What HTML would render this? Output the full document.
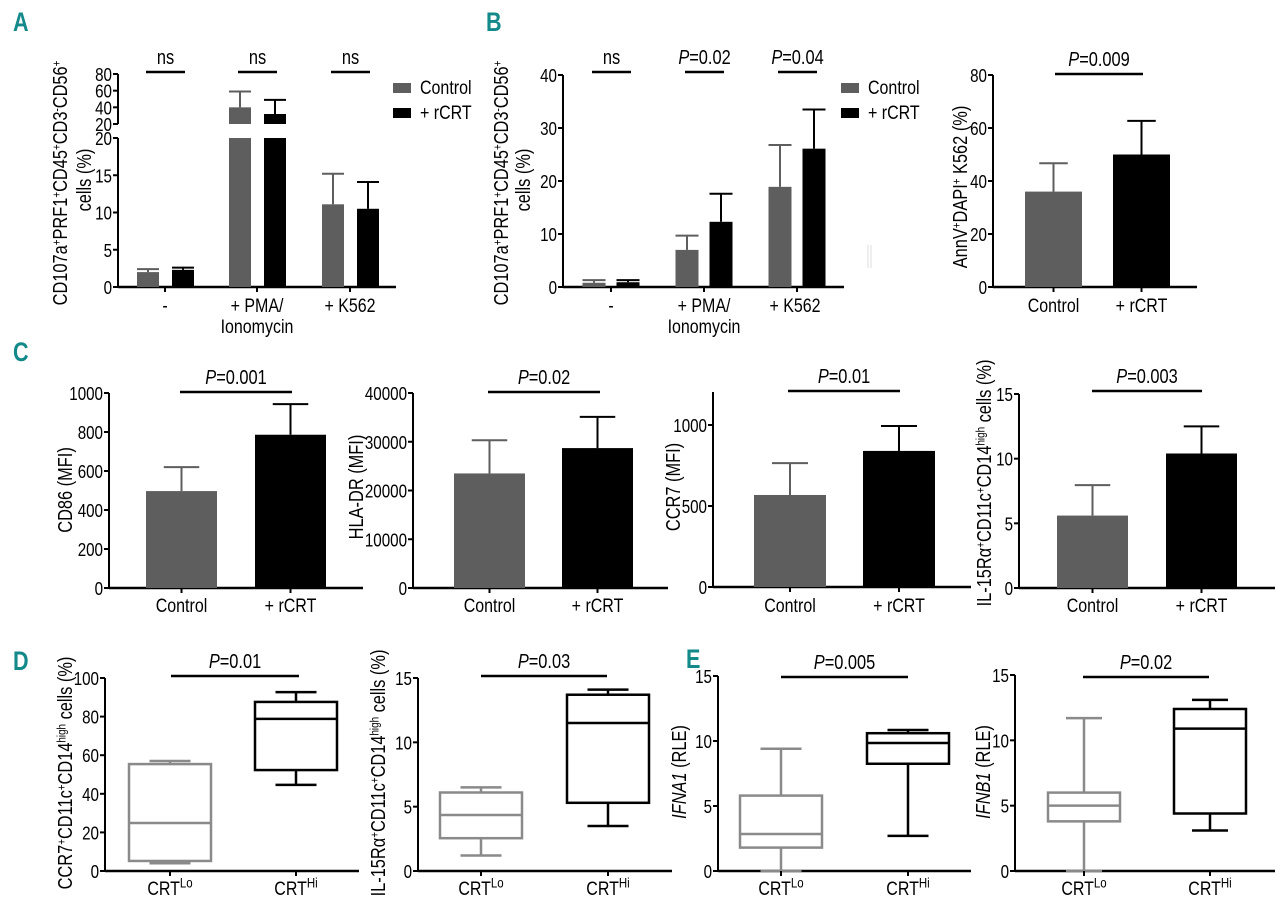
<!DOCTYPE html>
<html><head><meta charset="utf-8"><style>
html,body{margin:0;padding:0;background:#fff;}
svg{display:block;}
text{font-family:"Liberation Sans",sans-serif;fill:#000;}
.pl{font-weight:bold;fill:#13898a;font-size:27px;}
</style></head><body>
<svg id="fig" width="1280" height="912" viewBox="0 0 1280 912" xmlns="http://www.w3.org/2000/svg">
<text class="pl" transform="translate(13,31) scale(0.8,1)">A</text>
<text class="pl" transform="translate(486,31) scale(0.8,1)">B</text>
<text class="pl" transform="translate(13,361) scale(0.8,1)">C</text>
<text class="pl" transform="translate(13,670) scale(0.8,1)">D</text>
<text class="pl" transform="translate(686,668) scale(0.8,1)">E</text>
</svg>
<script>
// ---------- DATA ----------
const aGroups=["-","+ PMA/","+ K562"];
const aCtrl=[2.0,40,11.1];
const aCtrlErr=[2.4,59,15.2];
const aRcrt=[2.3,32,10.5];
const aRcrtErr=[2.6,49,14.1];
const aSig=["ns","ns","ns"];
const aTicksLow=[0,5,10,15,20];
const aTicksHigh=[20,40,60,80];

const bGroups=["-","+ PMA/","+ K562"];
const bCtrl=[0.8,7.0,18.9];
const bCtrlErr=[1.3,9.7,26.8];
const bRcrt=[0.9,12.3,26.1];
const bRcrtErr=[1.3,17.6,33.5];
const bSig=["ns","P=0.02","P=0.04"];
const bTicks=[0,10,20,30,40];

const annCats=["Control","+ rCRT"];
const annVals=[36,50];
const annErr=[46.7,62.7];
const annTicks=[0,20,40,60,80];

const cCats=["Control","+ rCRT"];
const cd86Vals=[497,786];
const cd86Err=[620,943];
const cd86Ticks=[0,200,400,600,800,1000];
const hlaVals=[23500,28700];
const hlaErr=[30300,35100];
const hlaTicks=[0,10000,20000,30000,40000];
const ccr7Vals=[568,840];
const ccr7Err=[765,994];
const ccr7Ticks=[0,500,1000];
const il15Vals=[5.6,10.4];
const il15Err=[7.95,12.5];
const il15Ticks=[0,5,10,15];

// box stats: [min,q1,median,q3,max]
const dCcr7Lo=[4,5.2,24.9,55.4,57];
const dCcr7Hi=[44.6,52.3,78.8,87.6,92.7];
const dCcr7Ticks=[0,20,40,60,80,100];
const dIl15Lo=[1.2,2.55,4.35,6.1,6.5];
const dIl15Hi=[3.5,5.3,11.5,13.7,14.1];
const dIl15Ticks=[0,5,10,15];
const eIfna1Lo=[0,1.8,2.85,5.8,9.4];
const eIfna1Hi=[2.7,8.25,9.85,10.6,10.85];
const eIfnb1Lo=[0,3.8,5.0,6.0,11.7];
const eIfnb1Hi=[3.1,4.4,10.9,12.4,13.1];
const eTicks=[0,5,10,15];

// ---------- HELPERS ----------
const svg=document.getElementById('fig');
const NS='http://www.w3.org/2000/svg';
const GRAY='#5e5e5e', BOXG='#8a8a8a', SX=0.82, TK=18.5, XL=19.5, YL=20;
function mk(tag,attrs,parent){const e=document.createElementNS(NS,tag);for(const k in attrs)e.setAttribute(k,attrs[k]);(parent||svg).appendChild(e);return e;}
function line(x1,y1,x2,y2,c,w,name){const e=mk('line',{x1,y1,x2,y2,stroke:c||'#000','stroke-width':w||2});

return e;}
function txt(x,y,s,size,anchor,name){const e=mk('text',{x:0,y:0,'font-size':size||17,'text-anchor':anchor||'middle',transform:`translate(${x},${y}) scale(${SX},1)`});e.textContent=s;

return e;}
function lin(v0,p0,v1,p1){return v=>p0+(v-v0)*(p1-p0)/(v1-v0);}
function yAxis(ax,y,ticks,top,bottom,name){line(ax,bottom,ax,top,'#000',2,name+'-y-axis');
ticks.forEach(t=>{const py=y(t);line(ax-5,py,ax,py,'#000',2,name+'-y-tick');txt(ax-6,py+7,String(t),TK,'end',name+'-y-tick-label');});}
function ylabel(x,y,parts,name,size){const e=mk('text',{x:0,y:0,'font-size':size||17,'text-anchor':'middle',transform:`translate(${x},${y}) rotate(-90) scale(${SX},1)`});


parts.forEach(p=>{const t=mk('tspan',{},e);if(p[1]==='sup'){t.setAttribute('baseline-shift','super');t.setAttribute('font-size',(size||17)*0.6);}if(p[1]==='i')t.setAttribute('font-style','italic');t.textContent=p[0];});return e;}
function pLabel(cx,y,s,name){if(s.startsWith('P')){const e=mk('text',{x:0,y:0,'font-size':20,'text-anchor':'middle',transform:`translate(${cx},${y}) scale(${SX},1)`});


const a=mk('tspan',{'font-style':'italic'},e);a.textContent='P';const b=mk('tspan',{},e);b.textContent=s.slice(1);}
else txt(cx,y,s,20,'middle',name);}
function bracket(x1,x2,y,s,name){line(x1,y,x2,y,'#000',2.5,name+'-bracket');pLabel((x1+x2)/2,y-8,s,name+'-pvalue');}
function bar(x,w,yTop,yBot,c,name){const e=mk('rect',{x,y:Math.min(yTop,yBot),width:w,height:Math.abs(yBot-yTop),fill:c});

return e;}
function err(cx,w,yv,ye,c,name){line(cx,yv,cx,ye,c,2,name);line(cx-w/2,ye,cx+w/2,ye,c,2,name+'-cap');}
function box(cx,w,st,y,c,name){const [mn,q1,md,q3,mx]=st.map(y);
line(cx,q3,cx,mx,c,2.5,name+'-whisker');line(cx,q1,cx,mn,c,2.5,name+'-whisker');
line(cx-w/4,mx,cx+w/4,mx,c,2.5,name+'-cap');line(cx-w/4,mn,cx+w/4,mn,c,2.5,name+'-cap');
const r=mk('rect',{x:cx-w/2,y:q3,width:w,height:q1-q3,fill:'none',stroke:c,'stroke-width':2.5});


line(cx-w/2,md,cx+w/2,md,c,2.5,name+'-median');}
function legend(x,y1,y2,name){
const r1=mk('rect',{x,y:y1-10,width:18,height:10,fill:GRAY});


txt(x+27,y1+1,'Control',XL,'start',name+'-control-text');
const r2=mk('rect',{x,y:y2-10,width:18,height:10,fill:'#000'});


txt(x+27,y2+1,'+ rCRT',XL,'start',name+'-rcrt-text');}

// ---------- PANEL A ----------
(function(){const ax=118, y0=287;
const yl=lin(0,287,20,138), yh=lin(20,124,80,74);
yAxis(ax,yl,aTicksLow,138,287,'a');
line(ax,124,ax,74,'#000',2,'a-y-axis-upper');
aTicksHigh.forEach(t=>{line(ax-5,yh(t),ax,yh(t),'#000',2,'a-y-tick');txt(ax-6,yh(t)+7,String(t),TK,'end','a-y-tick-label');});
line(ax,y0,396,y0,'#000',2.5,'a-x-axis');
const centers=[165,257,350], bw=22;
aGroups.forEach((g,i)=>{const c=centers[i];line(c,y0,c,y0+5,'#000',2,'a-x-tick');
[[aCtrl,aCtrlErr,GRAY,c-17],[aRcrt,aRcrtErr,'#000',c+18]].forEach(([v,e,col,bc],k)=>{
 const nm=(k?'a-bar-rcrt-':'a-bar-control-')+i;
 if(v[i]<=20){bar(bc-bw/2,bw,yl(v[i]),y0,col,nm);err(bc,bw,yl(v[i]),yl(e[i]),col,nm+'-error');}
 else{bar(bc-bw/2,bw,138,y0,col,nm);bar(bc-bw/2,bw,yh(v[i]),yh(20),col,nm+'-upper');err(bc,bw,yh(v[i]),yh(e[i]),col,nm+'-error');}
});
bracket(c-19,c+20,72,aSig[i],'a-sig-'+i);});
txt(165,312,'-',XL,'middle','a-x-label-0');txt(257,312,'+ PMA/',XL,'middle','a-x-label-1');txt(257,333,'Ionomycin',XL,'middle','a-x-label-1b');txt(350,312,'+ K562',XL,'middle','a-x-label-2');
ylabel(67,183,[['CD107a'],['+','sup'],['PRF1'],['+','sup'],['CD45'],['+','sup'],['CD3'],['-','sup'],['CD56'],['+','sup']],'a-y-axis-title',YL);
ylabel(91,180,[['cells (%)']],'a-y-axis-title-2',YL);
legend(393,93,118,'a-legend');})();

// ---------- PANEL B ----------
(function(){const ax=563, y0=287, y=lin(0,287,40,75);
yAxis(ax,y,bTicks,75,287,'b');line(ax,y0,844,y0,'#000',2.5,'b-x-axis');
const centers=[611,704,797], bw=23;
bGroups.forEach((g,i)=>{const c=centers[i];line(c,y0,c,y0+5,'#000',2,'b-x-tick');
bar(c-17-bw/2,bw,y(bCtrl[i]),y0,GRAY,'b-bar-control-'+i);err(c-17,bw,y(bCtrl[i]),y(bCtrlErr[i]),GRAY,'b-err-control-'+i);
bar(c+17-bw/2,bw,y(bRcrt[i]),y0,'#000','b-bar-rcrt-'+i);err(c+17,bw,y(bRcrt[i]),y(bRcrtErr[i]),'#000','b-err-rcrt-'+i);
bracket(c-19,c+20,72,bSig[i],'b-sig-'+i);});
txt(611,312,'-',XL,'middle','b-x-label-0');txt(704,312,'+ PMA/',XL,'middle','b-x-label-1');txt(704,333,'Ionomycin',XL,'middle','b-x-label-1b');txt(795,312,'+ K562',XL,'middle','b-x-label-2');
ylabel(508,183,[['CD107a'],['+','sup'],['PRF1'],['+','sup'],['CD45'],['+','sup'],['CD3'],['-','sup'],['CD56'],['+','sup']],'b-y-axis-title',YL);
ylabel(530,180,[['cells (%)']],'b-y-axis-title-2',YL);
legend(841,93,118,'b-legend');
line(868,245,868,268,'#ddd',1,'b-artifact');line(871,245,871,268,'#ddd',1,'b-artifact');})();

// ---------- generic two-bar chart ----------
function twoBar(o){const y=lin(0,o.y0,o.tickTop,o.yTop);
yAxis(o.ax,y,o.ticks,o.axTop,o.y0,o.name);line(o.ax,o.y0,o.axEnd,o.y0,'#000',2.5,o.name+'-x-axis');
o.cats.forEach((c,i)=>{const x=o.bx[i], cx=x+o.bw/2, col=i?'#000':GRAY;
bar(x,o.bw,y(o.vals[i]),o.y0,col,o.name+'-bar-'+i);err(cx,o.bw/2,y(o.vals[i]),y(o.errs[i]),col,o.name+'-error-'+i);
line(cx,o.y0,cx,o.y0+5,'#000',2,o.name+'-x-tick');txt(cx,o.lblY,c,XL,'middle',o.name+'-x-label');});
bracket(o.br[0],o.br[1],o.br[2],o.p,o.name+'-sig');ylabel(o.lx,o.ly,o.label,o.name+'-y-axis-title',YL);}

twoBar({name:'annv',ax:993,y0:287,tickTop:80,yTop:75,axTop:75,axEnd:1197,ticks:annTicks,cats:annCats,vals:annVals,errs:annErr,bx:[1025,1113],bw:57,lblY:312,br:[1055,1143,74],p:'P=0.009',lx:967,ly:187,label:[['AnnV'],['+','sup'],['DAPI'],['+','sup'],[' K562 (%)']]});
twoBar({name:'cd86',ax:109,y0:588,tickTop:1000,yTop:393,axTop:393,axEnd:363,ticks:cd86Ticks,cats:cCats,vals:cd86Vals,errs:cd86Err,bx:[146,255],bw:71,lblY:612,br:[180,292,392],p:'P=0.001',lx:72,ly:490,label:[['CD86 (MFI)']]});
twoBar({name:'hladr',ax:413,y0:588,tickTop:40000,yTop:393,axTop:393,axEnd:668,ticks:hlaTicks,cats:cCats,vals:hlaVals,errs:hlaErr,bx:[454,562],bw:71,lblY:612,br:[488,600,392],p:'P=0.02',lx:363,ly:487,label:[['HLA-DR (MFI)']]});
twoBar({name:'ccr7',ax:713,y0:587,tickTop:1000,yTop:425,axTop:392,axEnd:971,ticks:ccr7Ticks,cats:cCats,vals:ccr7Vals,errs:ccr7Err,bx:[754,863],bw:72,lblY:612,br:[788,900,391],p:'P=0.01',lx:680,ly:487,label:[['CCR7 (MFI)']]});
twoBar({name:'il15-bar',ax:1019,y0:588,tickTop:15,yTop:394,axTop:394,axEnd:1275,ticks:il15Ticks,cats:cCats,vals:il15Vals,errs:il15Err,bx:[1057,1166],bw:71,lblY:612,br:[1092,1202,391],p:'P=0.003',lx:991,ly:483,label:[['IL-15R\u03b1'],['+','sup'],['CD11c'],['+','sup'],['CD14'],['high','sup'],[' cells (%)']]});

// ---------- generic box chart ----------
function boxChart(o){const y=lin(0,871,o.tickTop,o.yTop);
yAxis(o.ax,y,o.ticks,o.yTop,871,o.name);line(o.ax,871,o.axEnd,871,'#000',2.5,o.name+'-x-axis');
[[o.lo,BOXG,'Lo'],[o.hi,'#000','Hi']].forEach(([st,c,s],i)=>{const cx=o.cx[i];
box(cx,o.bw,st,y,c,o.name+'-box-'+s.toLowerCase());line(cx,871,cx,876,'#000',2,o.name+'-x-tick');
const t=mk('text',{x:0,y:0,'font-size':XL,'text-anchor':'middle',transform:`translate(${cx},895) scale(${SX},1)`});


const a=mk('tspan',{},t);a.textContent='CRT';const b=mk('tspan',{'baseline-shift':'super','font-size':14},t);b.textContent=s;});
bracket(o.br[0],o.br[1],o.br[2],o.p,o.name+'-sig');ylabel(o.lx,o.ly,o.label,o.name+'-y-axis-title',YL);}

boxChart({name:'d-ccr7',ax:105,tickTop:100,yTop:678,axEnd:359,ticks:dCcr7Ticks,lo:dCcr7Lo,hi:dCcr7Hi,cx:[170,296],bw:82,br:[171,299,676],p:'P=0.01',lx:72,ly:773,label:[['CCR7'],['+','sup'],['CD11c'],['+','sup'],['CD14'],['high','sup'],[' cells (%)']]});
boxChart({name:'d-il15',ax:418,tickTop:15,yTop:678,axEnd:672,ticks:dIl15Ticks,lo:dIl15Lo,hi:dIl15Hi,cx:[481,608],bw:82,br:[481,607,676],p:'P=0.03',lx:385,ly:773,label:[['IL-15R\u03b1'],['+','sup'],['CD11c'],['+','sup'],['CD14'],['high','sup'],[' cells (%)']]});
boxChart({name:'e-ifna1',ax:718,tickTop:15,yTop:676,axEnd:971,ticks:eTicks,lo:eIfna1Lo,hi:eIfna1Hi,cx:[781,908],bw:82,br:[781,908,677],p:'P=0.005',lx:686,ly:772,label:[['IFNA1','i'],[' (RLE)']]});
boxChart({name:'e-ifnb1',ax:1015,tickTop:15,yTop:675,axEnd:1275,ticks:eTicks,lo:eIfnb1Lo,hi:eIfnb1Hi,cx:[1084,1210],bw:72,br:[1083,1209,677],p:'P=0.02',lx:990,ly:772,label:[['IFNB1','i'],[' (RLE)']]});
</script>
</body></html>
